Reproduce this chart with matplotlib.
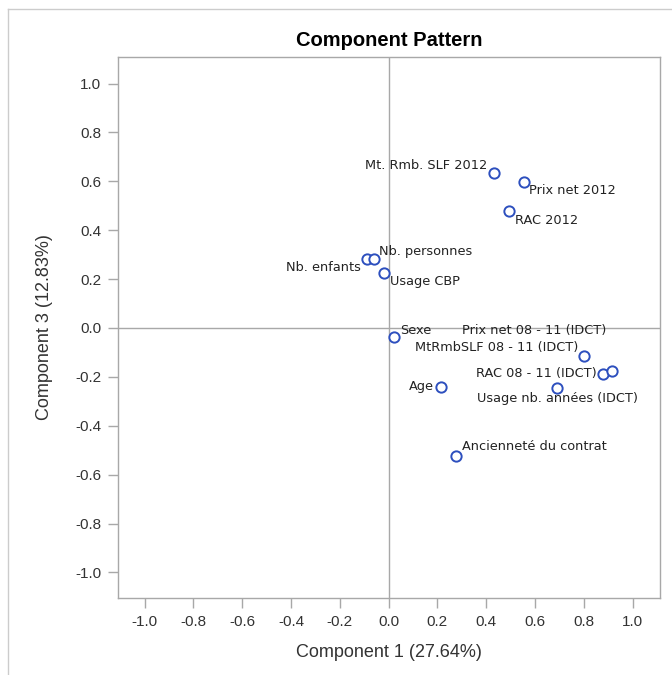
import matplotlib
matplotlib.use("Agg")
import matplotlib.pyplot as plt
from matplotlib.lines import Line2D

plt.rcParams['font.family'] = ['Liberation Sans', 'DejaVu Sans']

# Data
labels = ["Mt. Rmb. SLF 2012", "Prix net 2012", "RAC 2012", "Nb. enfants",
          "Nb. personnes", "Usage CBP", "Sexe", "MtRmbSLF 08 - 11 (IDCT)",
          "RAC 08 - 11 (IDCT)", "Prix net 08 - 11 (IDCT)",
          "Usage nb. années (IDCT)", "Age", "Ancienneté du contrat"]
comp1 = [0.433, 0.554, 0.493, -0.087, -0.058, -0.017, 0.024, 0.802,
         0.880, 0.916, 0.691, 0.214, 0.276]
comp3 = [0.633, 0.598, 0.478, 0.282, 0.282, 0.225, -0.038, -0.113,
         -0.188, -0.177, -0.246, -0.240, -0.523]
ticks = [-1.0, -0.8, -0.6, -0.4, -0.2, 0.0, 0.2, 0.4, 0.6, 0.8, 1.0]

# label placement (pixel offsets, alignment)
offsets = [(-7, 8, 'right'), (5, -9, 'left'), (6, -9, 'left'), (-6, -8, 'right'),
           (5, 8, 'left'), (6, -9, 'left'), (6, 7, 'left'), (-6, 8, 'right'),
           (-7, 0, 'right'), (-6, 41, 'right'), (0, -10, 'center'),
           (-7, 0, 'right'), (6, 9, 'left')]

W, H = 672, 675
fig = plt.figure(figsize=(W / 100, H / 100), dpi=100)
ax = fig.add_axes([117.7 / W, 1 - 598.3 / H, (660 - 117.7) / W, (598.3 - 56.7) / H])

gray = '#A8A8A8'
ax.axhline(0, color=gray, lw=1, zorder=1)
ax.axvline(0, color=gray, lw=1, zorder=1)

ax.scatter(comp1, comp3, s=55, facecolors='white', edgecolors='#2D4FBE',
           linewidths=1.4, zorder=3)

for lab, x, y, (dx, dy, ha) in zip(labels, comp1, comp3, offsets):
    ax.annotate(lab, (x, y), xytext=(dx, dy), textcoords='offset pixels',
                ha=ha, va='center', fontsize=9.3, color='#222222', zorder=4,
                family='DejaVu Sans')

ax.set_xlim(-1.11, 1.112)
ax.set_ylim(-1.106, 1.11)
ax.set_xticks(ticks)
ax.set_yticks(ticks)
ax.set_xticklabels([f"{t:.1f}" for t in ticks])
ax.set_yticklabels([f"{t:.1f}" for t in ticks])
for s in ax.spines.values():
    s.set_color(gray)
    s.set_linewidth(1)
ax.tick_params(axis='both', direction='out', length=7, width=1, color=gray,
               labelsize=11, labelcolor='#333333', pad=5)

ax.set_xlabel("Component 1 (27.64%)", fontsize=13, color='#333333', labelpad=11)
ax.set_ylabel("Component 3 (12.83%)", fontsize=13, color='#333333', labelpad=16)
ax.set_title("Component Pattern", fontsize=14.5, fontweight='bold', pad=8)

# outer border
fig.add_artist(Line2D([8 / W, 8 / W], [0, 1 - 9 / H], transform=fig.transFigure,
                      color='#CCCCCC', lw=1))
fig.add_artist(Line2D([8 / W, 1], [1 - 9 / H, 1 - 9 / H], transform=fig.transFigure,
                      color='#CCCCCC', lw=1))

fig.savefig("out.png", dpi=100)
